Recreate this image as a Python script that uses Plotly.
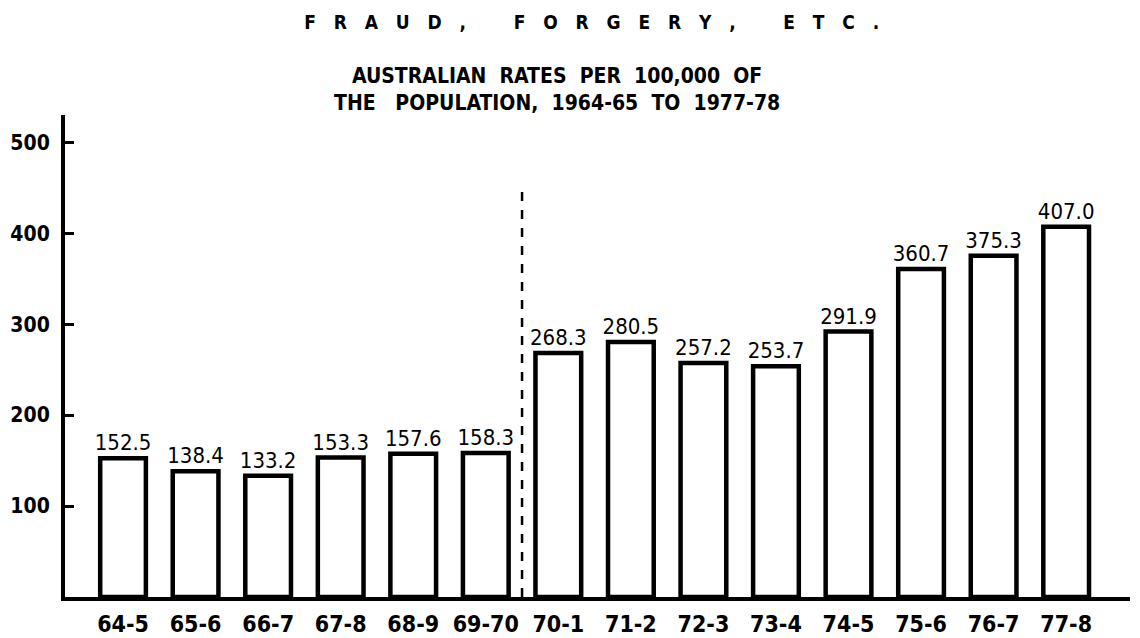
import plotly.graph_objects as go

categories = ["64-5", "65-6", "66-7", "67-8", "68-9", "69-70", "70-1",
              "71-2", "72-3", "73-4", "74-5", "75-6", "76-7", "77-8"]
rates = [152.5, 138.4, 133.2, 153.3, 157.6, 158.3, 268.3,
         280.5, 257.2, 253.7, 291.9, 360.7, 375.3, 407.0]
y_ticks = [100, 200, 300, 400, 500]
break_after = "69-70"
break_top = 447

x_idx = list(range(len(categories)))
cond = "DejaVu Sans Condensed"
NB = "\u00a0"


def spaced(word_list, letter_gap=3, word_gap=8):
    words = [(NB * letter_gap).join(list(w)) for w in word_list]
    return (NB * word_gap).join(words)


title_text = spaced(["FRAUD,", "FORGERY,", "ETC."])
sub1 = f"AUSTRALIAN{NB*2}RATES{NB*2}PER{NB*2}100,000{NB*2}OF"
sub2 = f"THE{NB*3}POPULATION,{NB*2}1964-65{NB*2}TO{NB*2}1977-78"

fig = go.Figure()
fig.add_trace(go.Bar(
    x=x_idx, y=rates,
    width=0.63,
    marker=dict(color="white", line=dict(color="black", width=4.5)),
    text=[f"{v:.1f}" for v in rates],
    textposition="outside",
    constraintext="none",
    textfont=dict(family=cond, size=22, color="black"),
    cliponaxis=False,
    hoverinfo="skip",
))

bx = categories.index(break_after) + 0.5
fig.add_shape(type="line", x0=bx, x1=bx, y0=0, y1=break_top,
              xref="x", yref="y",
              line=dict(color="black", width=2.5, dash="dash"))

fig.update_layout(
    width=1140, height=638,
    margin=dict(l=57, r=18, t=107, b=49),
    paper_bgcolor="white", plot_bgcolor="white",
    showlegend=False,
    font=dict(family=cond, color="black"),
    title=dict(
        text=title_text,
        x=0.512, xanchor="center", y=0.978, yanchor="middle",
        font=dict(family=cond, size=19, color="black", weight="bold"),
    ),
    annotations=[dict(
        text=sub1 + "<br>" + sub2,
        xref="paper", yref="paper", x=0.462, y=1.052, xanchor="center", yanchor="middle",
        showarrow=False, align="center",
        font=dict(family=cond, size=21, color="black", weight="bold"),
    )],
)

fig.update_xaxes(
    range=[-0.80, 13.88],
    tickmode="array", tickvals=x_idx, ticktext=categories,
    tickfont=dict(family=cond, size=23, color="black", weight="bold"),
    showline=True, linecolor="black", linewidth=4,
    ticks="", showgrid=False, zeroline=False,
    ticklabelstandoff=3, automargin=False,
)
fig.update_yaxes(
    range=[0, 530],
    tickmode="array", tickvals=y_ticks, ticktext=[str(t) for t in y_ticks],
    tickfont=dict(family=cond, size=21, color="black", weight="bold"),
    showline=True, linecolor="black", linewidth=4,
    ticks="inside", ticklen=9, tickwidth=3, tickcolor="black",
    ticklabelstandoff=7, automargin=False,
    showgrid=False, zeroline=False,
)

fig.write_html("out.html")
